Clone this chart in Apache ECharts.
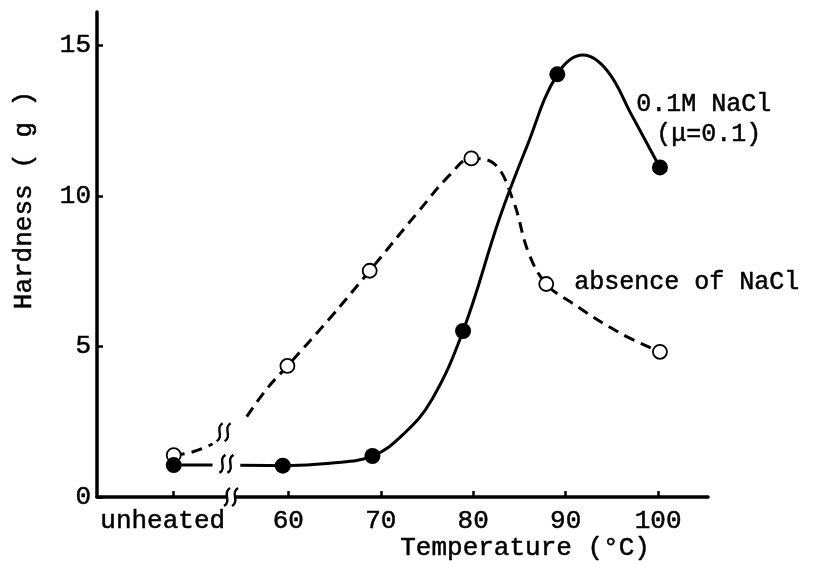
<!DOCTYPE html>
<html>
<head>
<meta charset="utf-8">
<script src="https://cdn.jsdelivr.net/npm/echarts@6/dist/echarts.min.js"></script>
<style>
  html, body { margin: 0; padding: 0; background: #fff; }
  #chart { width: 816px; height: 567px; }
</style>
</head>
<body>
<div id="chart"></div>
<script>
// x is in °C, "unheated" is put at 47.6, left of the axis break
var xTicks = [47.6, 60, 70, 80, 90, 100];
var xTickLabels = ['unheated', '60', '70', '80', '90', '100'];
var yTicks = [0, 5, 10, 15];

// measured points
var naclX = [47.6, 59.4, 69.1, 78.9, 89.1, 100.2];
var naclY = [1.06, 1.04, 1.36, 5.51, 14.03, 10.94];
var noSaltX = [47.6, 59.9, 68.8, 79.8, 87.9, 100.2];
var noSaltY = [1.39, 4.35, 7.51, 11.24, 7.07, 4.82];

// hand drawn curves (null = gap at the break)
var naclCurveX = [47.6, 51.8, 53.3, 54.8, 59.4, 64.5, 69.1, 72.5, 75.5, 78.9, 82.9, 85.8, 89.1, 91.9, 94.5, 97.0, 100.2];
var naclCurveY = [1.06, 1.06, null, 1.05, 1.04, 1.12, 1.36, 2.10, 3.22, 5.51, 9.30, 11.63, 14.03, 14.67, 14.15, 12.76, 10.94];
var noSaltCurveX = [47.6, 49.7, 51.8, 53.0, 55.5, 57.7, 59.9, 64.4, 68.8, 74.0, 77.5, 79.8, 82.2, 84.3, 86.0, 87.9, 90.5, 95.9, 100.2];
var noSaltCurveY = [1.39, 1.50, 1.76, null, 2.67, 3.60, 4.35, 5.90, 7.51, 9.45, 10.70, 11.24, 11.08, 9.86, 8.10, 7.07, 6.48, 5.44, 4.82];

// where the "≈" break marks sit: axis, solid curve, dashed curve
var breakX = [53.8, 53.3, 53.0];
var breakY = [0, 1.1, 2.15];

var FONT = '"Liberation Mono", "DejaVu Sans Mono", monospace';

function zip(xs, ys) {
    return xs.map(function (x, i) { return [x, ys[i] === null ? '-' : ys[i]]; });
}

function txt(text, left, top, size) {
    return {
        type: 'text', left: left, top: top,
        style: { text: text, font: size + 'px ' + FONT, fill: '#000', stroke: '#000', lineWidth: 0.5 }
    };
}

var chart = echarts.init(document.getElementById('chart'));
chart.setOption({
    animation: false,
    backgroundColor: '#fff',
    grid: { left: 97, right: 108, top: 12, bottom: 70, outerBoundsMode: 'none' },
    xAxis: {
        type: 'value',
        min: 39.3,
        max: 105.4,
        axisLine: { lineStyle: { color: '#000', width: 3.5 } },
        axisTick: { inside: true, length: 6, customValues: xTicks, lineStyle: { color: '#000', width: 2.5 } },
        axisLabel: {
            customValues: xTicks,
            margin: 11,
            color: '#000',
            fontFamily: FONT,
            fontSize: 26,
            textBorderColor: '#000',
            textBorderWidth: 0.5,
            formatter: function (v) {
                for (var i = 0; i < xTicks.length; i++) {
                    if (Math.abs(xTicks[i] - v) < 1e-6) {
                        return i === 0 ? '{u|' + xTickLabels[i] + '}' : xTickLabels[i];
                    }
                }
                return '';
            },
            rich: { u: { fontFamily: FONT, fontSize: 26, color: '#000', textBorderColor: '#000', textBorderWidth: 0.5, padding: [0, 22, 0, 0] } }
        },
        splitLine: { show: false }
    },
    yAxis: {
        type: 'value',
        min: 0,
        max: 16.1,
        axisLine: { show: true, lineStyle: { color: '#000', width: 3.5 } },
        axisTick: { show: true, inside: true, length: 6, customValues: yTicks, lineStyle: { color: '#000', width: 2.5 } },
        axisLabel: {
            customValues: yTicks, margin: 6, color: '#000', fontFamily: FONT, fontSize: 26,
            textBorderColor: '#000', textBorderWidth: 0.5
        },
        splitLine: { show: false }
    },
    series: [
        {
            type: 'line',
            data: zip(naclCurveX, naclCurveY),
            smooth: 0.4,
            showSymbol: false,
            connectNulls: false,
            lineStyle: { color: '#000', width: 3 },
            z: 2
        },
        {
            type: 'line',
            data: zip(noSaltCurveX, noSaltCurveY),
            smooth: 0.4,
            showSymbol: false,
            connectNulls: false,
            lineStyle: { color: '#000', width: 3, type: [11, 7] },
            z: 2
        },
        {
            type: 'scatter',
            data: zip(noSaltX, noSaltY),
            symbol: 'circle',
            symbolSize: 14,
            itemStyle: { color: '#fff', borderColor: '#000', borderWidth: 1.8, opacity: 1 },
            z: 3
        },
        {
            type: 'scatter',
            data: zip(naclX, naclY),
            symbol: 'circle',
            symbolSize: 16,
            itemStyle: { color: '#000', opacity: 1 },
            z: 4
        }
    ],
    graphic: [
        txt('0.1M NaCl', 636, 92, 25),
        txt('(\u03bc=0.1)', 656, 122, 25),
        txt('absence of NaCl', 574, 270, 25),
        txt('Temperature (\u00b0C)', 400, 535, 26),
        {
            type: 'text', x: 24, y: 200, rotation: Math.PI / 2,
            style: {
                text: 'Hardness ( g )', font: '26px ' + FONT, fill: '#000', stroke: '#000', lineWidth: 0.5,
                align: 'center', verticalAlign: 'middle'
            }
        }
    ]
});

// break marks, placed from data coordinates
var marks = [];
breakX.forEach(function (bx, i) {
    var p = chart.convertToPixel({ gridIndex: 0 }, [bx, breakY[i]]);
    var cx = p[0], cy = p[1];
    if (i === 0) {
        marks.push({ type: 'rect', shape: { x: cx - 4, y: cy - 4, width: 8, height: 8 }, style: { fill: '#fff' }, z: 10 });
    }
    [-4, 4].forEach(function (dx) {
        marks.push({
            type: 'bezierCurve',
            shape: { x1: cx + dx + 3, y1: cy - 9, x2: cx + dx - 3, y2: cy + 9, cpx1: cx + dx - 5, cpy1: cy - 4, cpx2: cx + dx + 5, cpy2: cy + 4 },
            style: { stroke: '#000', lineWidth: 2.4, fill: null },
            z: 11
        });
    });
});
var g = chart.getOption().graphic[0].elements.slice();
chart.setOption({ graphic: g.concat(marks) }, { replaceMerge: ['graphic'] });
</script>
</body>
</html>
